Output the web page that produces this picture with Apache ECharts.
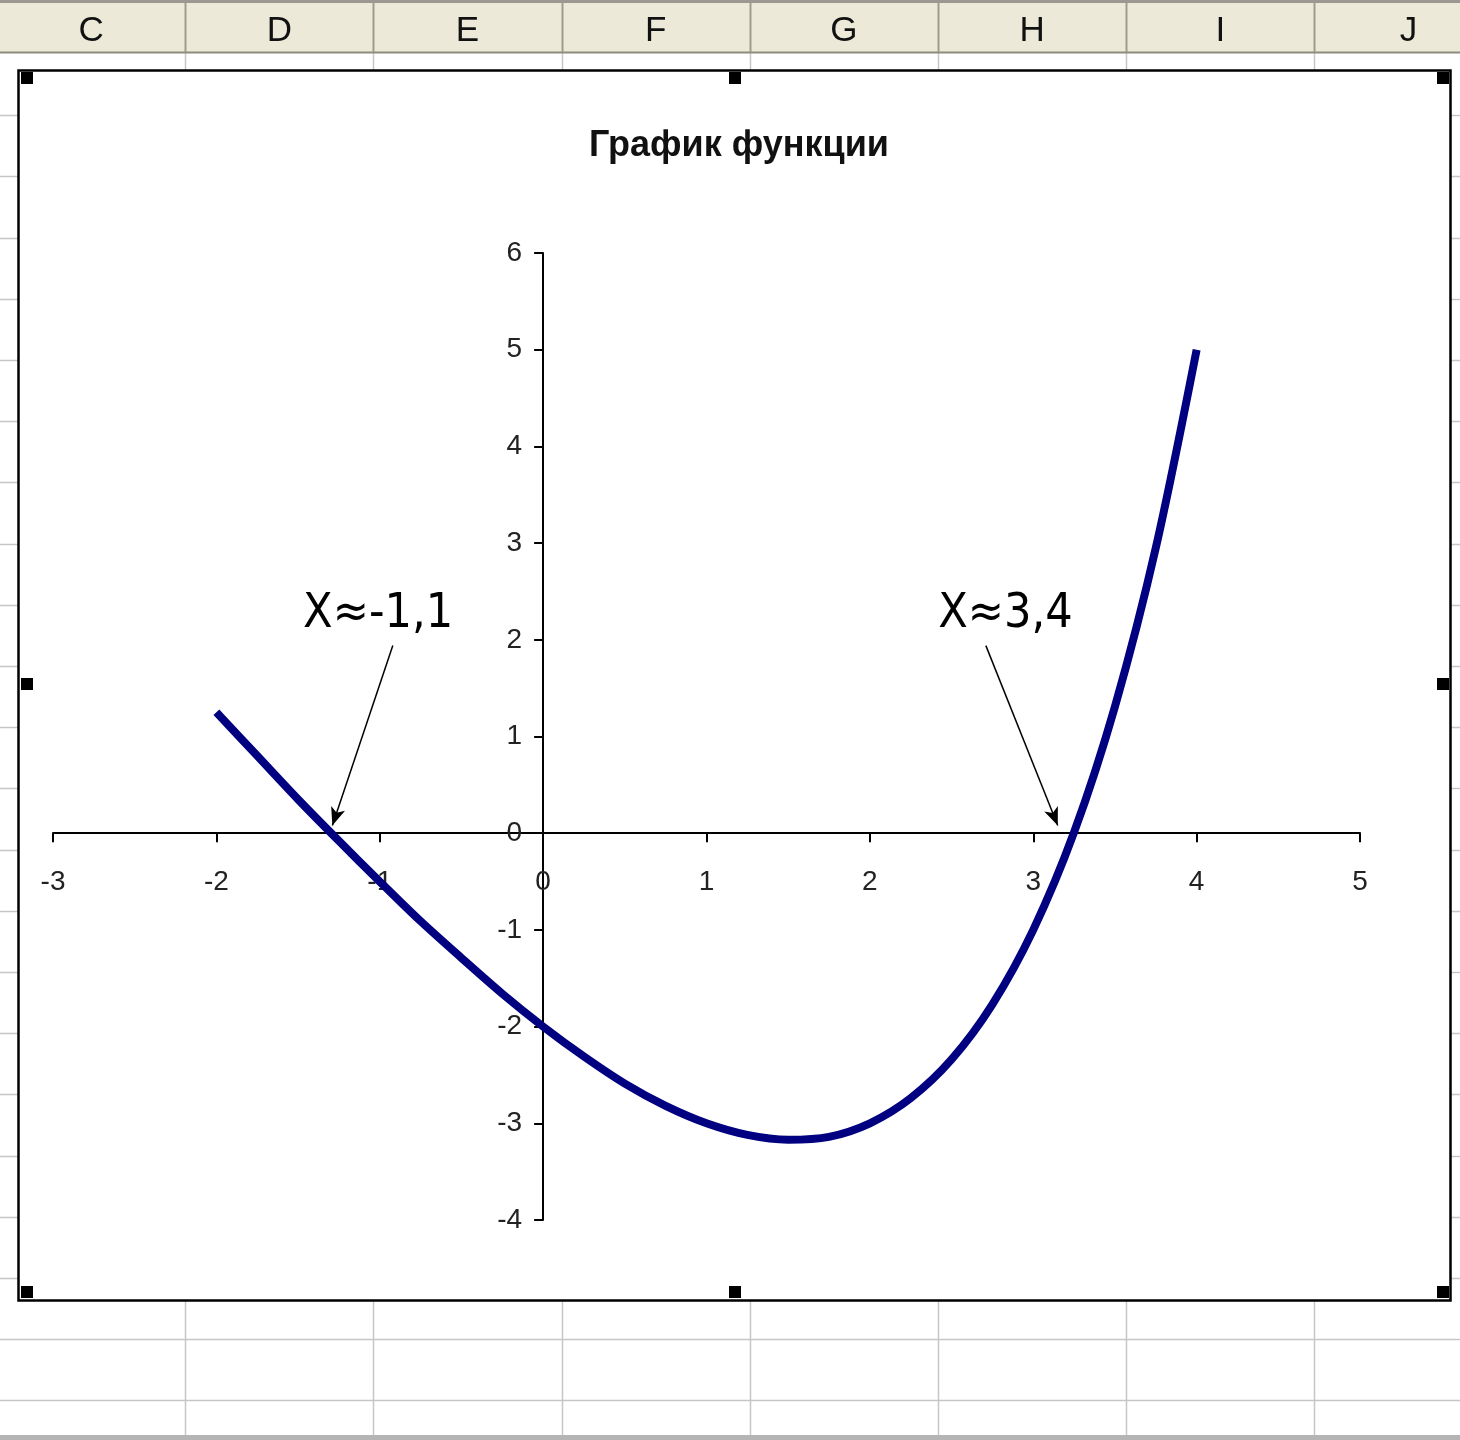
<!DOCTYPE html>
<html>
<head>
<meta charset="utf-8">
<script src="https://cdn.jsdelivr.net/npm/echarts@6/dist/echarts.min.js"></script>
<style>
html, body { margin: 0; padding: 0; background: #fff; }
#container { width: 1460px; height: 1440px; }
</style>
</head>
<body>
<div id="container"></div>
<script>
var dom = document.getElementById('container');
var chart = echarts.init(dom);

// x values of the table and the function values
var xValues = [-2, -1.75, -1.5, -1.25, -1, -0.75, -0.5, -0.25, 0, 0.25, 0.5, 0.75, 1,
	1.25, 1.5, 1.75, 2, 2.25, 2.5, 2.75, 3, 3.25, 3.5, 3.75, 4];
var yValues = [1.25, 0.8, 0.35, -0.08, -0.5, -0.91, -1.29, -1.66, -2, -2.31, -2.59, -2.82, -3,
	-3.12, -3.17, -3.14, -3, -2.74, -2.34, -1.77, -1, 0.01, 1.31, 2.95, 5];

// annotation texts, their anchor and arrow ends (data coordinates)
var noteTexts = ['X≈-1,1', 'X≈3,4'];
var noteAt = [[-1.01, 2.26], [2.83, 2.26]];
var arrowFrom = [[-0.92, 1.94], [2.71, 1.94]];
var arrowTo = [[-1.29, 0.08], [3.15, 0.08]];

// spreadsheet column letters
var columns = ['C', 'D', 'E', 'F', 'G', 'H', 'I', 'J'];

var points = [];
for (var i = 0; i < xValues.length; i++) {
	points.push([xValues[i], yValues[i]]);
}

// plot box; the axes cross at 0 inside it (excel style)
var gridLeft = 53, gridRight = 100, gridTop = 253, gridBottom = 220;
var plotW = 1460 - gridLeft - gridRight;
var plotH = 1440 - gridTop - gridBottom;
var xMin = -3, xMax = 5, yMin = -4, yMax = 6;
var xShift = -plotH * (0 - yMin) / (yMax - yMin); // move x axis up to y = 0
var yShift = -plotW * (0 - xMin) / (xMax - xMin); // move y axis right to x = 0

// --- excel sheet behind the chart ---
var bg = [];
var colW = 188.2;
var colStart = -3;
bg.push({ type: 'rect', z: -10, shape: { x: 0, y: 0, width: 1460, height: 1440 }, style: { fill: '#ffffff' } });
// cell grid
for (var r = 1; r < 23; r++) {
	var ry = Math.round(54 + r * 61.2) + 0.5;
	bg.push({ type: 'line', z: -9, shape: { x1: 0, y1: ry, x2: 1460, y2: ry }, style: { stroke: '#c6c6c6', lineWidth: 1.5 } });
}
for (var c = 1; c < columns.length; c++) {
	var cx = Math.round(colStart + c * colW) + 0.5;
	bg.push({ type: 'line', z: -9, shape: { x1: cx, y1: 52, x2: cx, y2: 1440 }, style: { stroke: '#c6c6c6', lineWidth: 1.5 } });
}
// header row
bg.push({ type: 'rect', z: -8, shape: { x: 0, y: 0, width: 1460, height: 53 }, style: { fill: '#ece9d8' } });
bg.push({ type: 'rect', z: -8, shape: { x: 0, y: 0, width: 1460, height: 3 }, style: { fill: '#9a9890' } });
bg.push({ type: 'line', z: -8, shape: { x1: 0, y1: 52.5, x2: 1460, y2: 52.5 }, style: { stroke: '#8e8b7e', lineWidth: 2 } });
for (var c = 0; c < columns.length; c++) {
	var left = colStart + c * colW;
	if (c > 0) {
		bg.push({ type: 'line', z: -8, shape: { x1: Math.round(left) + 0.5, y1: 3, x2: Math.round(left) + 0.5, y2: 52 }, style: { stroke: '#a09c8c', lineWidth: 2 } });
	}
	bg.push({
		type: 'text', z: -7,
		style: {
			text: columns[c], x: left + colW / 2, y: 31,
			align: 'center', verticalAlign: 'middle',
			font: '35px "Liberation Sans", Arial, sans-serif', fill: '#111'
		}
	});
}
// bottom edge of the window
bg.push({ type: 'rect', z: -8, shape: { x: 0, y: 1435, width: 1460, height: 5 }, style: { fill: '#b4b4b4' } });
// chart area with selection handles
bg.push({ type: 'rect', z: -6, shape: { x: 18.5, y: 70.5, width: 1432, height: 1230 }, style: { fill: '#ffffff', stroke: '#000', lineWidth: 2.5 } });
var handles = [[21, 72], [729, 72], [1437, 72], [21, 678], [1437, 678], [21, 1286], [729, 1286], [1437, 1286]];
for (var h = 0; h < handles.length; h++) {
	bg.push({ type: 'rect', z: -5, shape: { x: handles[h][0], y: handles[h][1], width: 12, height: 12 }, style: { fill: '#000' } });
}

var arrows = [];
var notes = [];
for (var k = 0; k < noteTexts.length; k++) {
	arrows.push([{ coord: arrowFrom[k] }, { coord: arrowTo[k] }]);
	notes.push({ coord: noteAt[k], value: noteTexts[k] });
}

var option = {
	animation: false,
	graphic: bg,
	title: {
		text: 'График функции',
		left: 584,
		top: 123,
		textStyle: {
			fontFamily: '"Liberation Sans", Arial, sans-serif',
			fontSize: 36,
			fontWeight: 'bold',
			color: '#111'
		}
	},
	grid: {
		left: gridLeft,
		right: gridRight,
		top: gridTop,
		bottom: gridBottom
	},
	xAxis: {
		type: 'value',
		min: xMin,
		max: xMax,
		interval: 1,
		position: 'bottom',
		offset: xShift,
		axisLine: { onZero: false, lineStyle: { color: '#000', width: 2 } },
		axisTick: { show: true, length: 9, lineStyle: { color: '#000', width: 2 } },
		axisLabel: {
			margin: 35,
			fontFamily: '"Liberation Sans", Arial, sans-serif',
			fontSize: 28,
			color: '#222',
			showMinLabel: true,
			showMaxLabel: true
		},
		splitLine: { show: false }
	},
	yAxis: {
		type: 'value',
		min: yMin,
		max: yMax,
		interval: 1,
		position: 'left',
		offset: yShift,
		axisLine: { onZero: false, lineStyle: { color: '#000', width: 2 } },
		axisTick: { show: true, length: 9, lineStyle: { color: '#000', width: 2 } },
		axisLabel: {
			margin: 21,
			fontFamily: '"Liberation Sans", Arial, sans-serif',
			fontSize: 28,
			color: '#222'
		},
		splitLine: { show: false }
	},
	series: [{
		name: 'f(x)',
		type: 'line',
		smooth: 0.3,
		showSymbol: false,
		lineStyle: { color: '#000080', width: 8 },
		data: points,
		markLine: {
			silent: true,
			symbol: ['none', 'arrow'],
			symbolSize: [11, 18],
			label: { show: false },
			lineStyle: { color: '#000', width: 1.5, type: 'solid' },
			data: arrows
		},
		markPoint: {
			silent: true,
			symbol: 'rect',
			symbolSize: 1,
			itemStyle: { color: 'rgba(0,0,0,0)' },
			label: {
				show: true,
				position: 'inside',
				formatter: function (p) { return p.value; },
				fontFamily: '"DejaVu Sans Condensed", "DejaVu Sans", Verdana, sans-serif',
				fontSize: 48,
				color: '#000'
			},
			data: notes
		}
	}]
};

chart.setOption(option);
</script>
</body>
</html>
